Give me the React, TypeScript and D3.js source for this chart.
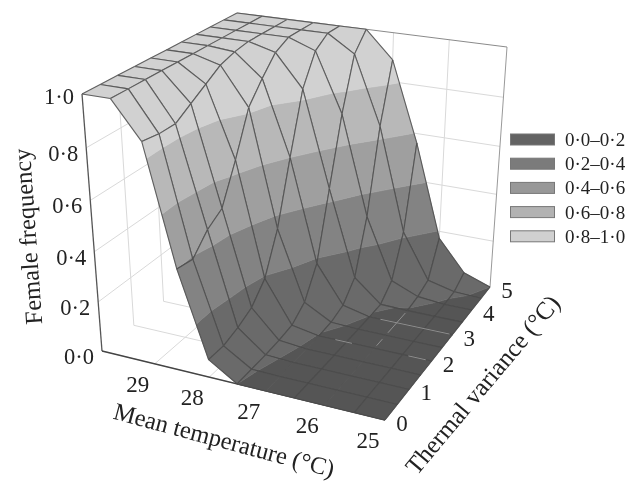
import React, { useEffect, useRef } from "react";
import * as d3 from "d3";

const temps = [30, 29.5, 29, 28.5, 28, 27.5, 27, 26.5, 26, 25.5, 25];
const variances = [0, 0.5, 1, 1.5, 2, 2.5, 3, 3.5, 4, 4.5, 5];

// one row per variance, one column per temperature
// slightly negative values are the flat part that dips under the floor
const frequency = [
  [1, 1, 0.86, 0.4, 0.07, 0.0, -0.01, -0.01, -0.01, -0.01, -0.01],
  [1, 1, 0.85, 0.39, 0.07, 0.002, -0.008, -0.01, -0.01, -0.01, -0.01],
  [1, 1, 0.85, 0.46, 0.09, 0.005, -0.006, -0.01, -0.01, -0.01, -0.01],
  [1, 1, 0.89, 0.5, 0.12, 0.01, -0.004, -0.01, -0.01, -0.01, -0.01],
  [1, 1, 0.93, 0.65, 0.19, 0.02, -0.002, -0.01, -0.01, -0.01, -0.01],
  [1, 1, 0.97, 0.82, 0.35, 0.065, 0.005, -0.006, -0.01, -0.01, -0.01],
  [1, 1, 0.99, 0.9, 0.6, 0.18, 0.026, -0.002, -0.008, -0.01, -0.01],
  [1, 1, 1, 0.97, 0.84, 0.45, 0.095, 0.003, -0.003, -0.01, -0.01],
  [1, 1, 1, 1, 0.96, 0.72, 0.31, 0.056, 0.01, -0.005, -0.01],
  [1, 1, 1, 1, 1, 0.93, 0.65, 0.22, 0.032, 0.005, -0.005],
  [1, 1, 1, 1, 1, 1, 0.89, 0.56, 0.17, 0.04, 0.0],
];

const tempTicks = [29, 28, 27, 26, 25];
const varianceTicks = [0, 1, 2, 3, 4, 5];
const freqTicks = [0, 0.2, 0.4, 0.6, 0.8, 1];
const freqLabels = ["0·0", "0·2", "0·4", "0·6", "0·8", "1·0"];
const legendLabels = ["0·0–0·2", "0·2–0·4", "0·4–0·6", "0·6–0·8", "0·8–1·0"];
const legendColors = ["#636363", "#7b7b7b", "#989898", "#b2b2b2", "#d0d0d0"];

const bandEdges = [0, 0.2, 0.4, 0.6, 0.8];
const bandColors = ["#555555", "#6a6a6a", "#838383", "#9f9f9f", "#b8b8b8", "#d1d1d1"];

// floor grid pieces showing through the flat part: [T1, v1, T2, v2]
const floorGlints = [
  [26.3, 3, 25.05, 3],
  [26.7, 2, 26.4, 2],
  [25.4, 2, 25.1, 2],
  [26, 2.6, 26, 3.4],
  [26, 2.1, 26, 2.35],
];

// these mesh lines nearly vanish on the flat part
const faintTemps = [26, 27];

type P = [number, number];

// corners of the box as seen: L, F, R, B
const floorQuad: P[] = [[102, 351], [385, 420], [490, 287], [242, 238]];
const topQuad: P[] = [[82, 94], [394, 144], [507, 47], [237, 13]];

// unit square -> quad
function homography(q: P[]) {
  const [[x0, y0], [x1, y1], [x2, y2], [x3, y3]] = q;
  const dx1 = x1 - x2, dx2 = x3 - x2, sx = x0 - x1 + x2 - x3;
  const dy1 = y1 - y2, dy2 = y3 - y2, sy = y0 - y1 + y2 - y3;
  const den = dx1 * dy2 - dx2 * dy1;
  const g = (sx * dy2 - dx2 * sy) / den;
  const h = (dx1 * sy - sx * dy1) / den;
  const a = x1 - x0 + g * x1, b = x3 - x0 + h * x3;
  const d = y1 - y0 + g * y1, e = y3 - y0 + h * y3;
  return (u: number, w: number): P => {
    const k = g * u + h * w + 1;
    return [(a * u + b * w + x0) / k, (d * u + e * w + y0) / k];
  };
}

const floorH = homography(floorQuad);
const topH = homography(topQuad);

const tScale = d3.scaleLinear().domain([30, 25]).range([0, 1]);
const vScale = d3.scaleLinear().domain([0, 5]).range([0, 1]);
const zSkew = 1.06;
const zScale = (z: number) => z / (zSkew - (zSkew - 1) * z);

const project = (t: number, v: number, z: number): P => {
  const u = tScale(t), w = vScale(v), k = zScale(Math.max(z, 0));
  const a = floorH(u, w), b = topH(u, w);
  return [a[0] + (b[0] - a[0]) * k, a[1] + (b[1] - a[1]) * k];
};

const bandColor = d3.scaleThreshold<number, string>().domain(bandEdges).range(bandColors);

type V = [number, number, number];

// keep the part of a polygon above or below a level
function clipZ(poly: V[], level: number, keepAbove: boolean) {
  const out: V[] = [];
  const inside = (p: V) => (keepAbove ? p[2] >= level : p[2] <= level);
  poly.forEach((p, i) => {
    const q = poly[(i + 1) % poly.length];
    if (inside(p)) out.push(p);
    if (inside(p) !== inside(q)) {
      const s = (level - p[2]) / (q[2] - p[2]);
      out.push([p[0] + (q[0] - p[0]) * s, p[1] + (q[1] - p[1]) * s, level]);
    }
  });
  return out;
}

export default function App() {
  const svgRef = useRef<SVGSVGElement>(null);

  useEffect(() => {
    const svg = d3.select(svgRef.current);
    svg.selectAll("*").remove();
    const line = d3.line();
    const serif = "'Liberation Serif', serif";
    const gridColor = "#d9d9d9";

    const seg = (a: P, b: P, stroke: string, width = 1) =>
      svg.append("path").attr("d", line([a, b])).attr("fill", "none").attr("stroke", stroke).attr("stroke-width", width);

    // walls and floor grid
    freqTicks.slice(1, 5).forEach((z) => {
      seg(project(30, 0, z), project(30, 5, z), gridColor);
      seg(project(30, 5, z), project(25, 5, z), gridColor);
    });
    tempTicks.forEach((t) => {
      seg(project(t, 0, 0), project(t, 5, 0), gridColor);
      seg(project(t, 5, 0), project(t, 5, 1), t === 25 ? "#999" : gridColor);
    });
    varianceTicks.forEach((v) => {
      seg(project(30, v, 0), project(25, v, 0), gridColor);
      if (v > 0) seg(project(30, v, 0), project(30, v, 1), gridColor);
    });
    seg(project(30, 5, 1), project(25, 5, 1), "#8a8a8a");
    seg(project(30, 0, 0), project(30, 0, 1), "#555", 1.3);
    seg(project(30, 0, 0), project(25, 0, 0), "#444", 1.3);

    // surface, far cells first
    for (let i = variances.length - 2; i >= 0; i--) {
      for (let j = 0; j < temps.length - 1; j++) {
        const cell: V[] = [
          [temps[j], variances[i], frequency[i][j]],
          [temps[j + 1], variances[i], frequency[i][j + 1]],
          [temps[j + 1], variances[i + 1], frequency[i + 1][j + 1]],
          [temps[j], variances[i + 1], frequency[i + 1][j]],
        ];
        const edges = [-Infinity, ...bandEdges, Infinity];
        for (let b = 0; b < edges.length - 1; b++) {
          let part = cell;
          if (edges[b] > -Infinity) part = clipZ(part, edges[b], true);
          if (part.length && edges[b + 1] < Infinity) part = clipZ(part, edges[b + 1], false);
          if (part.length < 3) continue;
          const col = bandColor((edges[b] > -Infinity ? edges[b] : -1) + 1e-6);
          svg.append("path")
            .attr("d", line(part.map((p) => project(p[0], p[1], p[2]))) + "Z")
            .attr("fill", col)
            .attr("stroke", col)
            .attr("stroke-width", 0.6);
        }
        cell.forEach((p, k) => {
          const q = cell[(k + 1) % 4];
          const flat = p[2] <= 0 && q[2] <= 0;
          const faint = flat && p[0] === q[0] && faintTemps.includes(p[0]);
          seg(project(p[0], p[1], p[2]), project(q[0], q[1], q[2]), faint ? "#505050" : "#4a4a4a", faint ? 0.5 : 1.1)
            .attr("stroke-opacity", 0.85);
        });
      }
    }

    floorGlints.forEach(([t1, v1, t2, v2]) => {
      seg(project(t1, v1, 0), project(t2, v2, 0), "#8e8e8e", 1);
    });

    const text = (x: number, y: number, s: string, size: number, rotate = 0, anchor = "middle") =>
      svg.append("text")
        .attr("transform", `translate(${x},${y}) rotate(${rotate})`)
        .attr("text-anchor", anchor)
        .attr("font-family", serif)
        .attr("font-size", size)
        .attr("fill", "#222")
        .text(s);

    // tick labels sit off the axis by a fixed offset
    freqTicks.forEach((z, i) => {
      const p = project(30, 0, z);
      text(p[0] - 8, p[1] + (z === 1 ? 10 : 13), freqLabels[i], 22.5, 0, "end");
    });
    tempTicks.forEach((t) => {
      const p = project(t, 0, 0);
      text(p[0] - 17, p[1] + 28, String(t), 23);
    });
    varianceTicks.forEach((v) => {
      const p = project(25, v, 0);
      text(p[0] + 17, p[1] + 11, String(v), 23);
    });

    text(222, 448, "Mean temperature (°C)", 24.5, 15);
    text(489, 390, "Thermal variance (°C)", 25, -50);
    text(36, 236, "Female frequency", 24.5, -94);

    // legend
    legendLabels.forEach((s, i) => {
      const y = 134 + i * 24.2;
      svg.append("rect")
        .attr("x", 510.5).attr("y", y).attr("width", 44).attr("height", 11)
        .attr("fill", legendColors[i]).attr("stroke", "#777");
      text(565, y + 12, s, 19, 0, "start");
    });
  }, []);

  return (
    <svg ref={svgRef} width={633} height={481}
      style={{ position: "absolute", left: 0, top: 0, background: "#fff", filter: "blur(0.4px)" }} />
  );
}
